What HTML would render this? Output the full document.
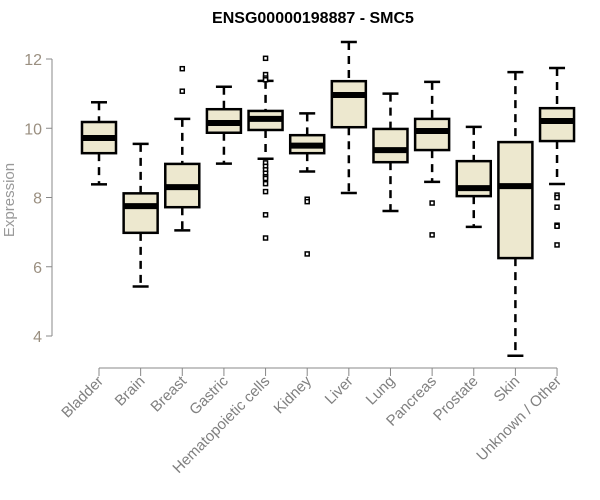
<!DOCTYPE html>
<html><head><meta charset="utf-8"><style>
body{margin:0;background:#fff}
svg{display:block;font-family:"Liberation Sans",sans-serif}
</style></head><body>
<svg id="chart" width="600" height="500" xmlns="http://www.w3.org/2000/svg">
<text x="313" y="23" text-anchor="middle" font-weight="bold" font-size="16" fill="#000">ENSG00000198887 - SMC5</text>
<text transform="translate(14,200) rotate(-90)" text-anchor="middle" font-size="15" fill="#999">Expression</text>
<g id="yaxis"></g>
<g id="xaxis"></g>
<g id="boxes"></g>
</svg>
<script>
const categories=["Bladder","Brain","Breast","Gastric","Hematopoietic cells","Kidney","Liver","Lung","Pancreas","Prostate","Skin","Unknown / Other"];
const whiskerHigh=[10.75,9.55,10.27,11.2,11.37,10.43,12.49,11.0,11.34,10.04,11.62,11.74];
const q3=[10.18,8.12,8.97,10.55,10.5,9.8,11.36,9.98,10.27,9.05,9.6,10.58];
const med=[9.72,7.75,8.3,10.15,10.27,9.5,10.96,9.37,9.92,8.27,8.33,10.21];
const q1=[9.28,6.98,7.72,9.87,9.95,9.28,10.03,9.02,9.37,8.04,6.25,9.63];
const whiskerLow=[8.38,5.43,7.05,8.98,9.12,8.75,8.13,7.61,8.45,7.15,3.43,8.39];
const outliers=[[],[],[11.72,11.07],[],[12.02,11.55,11.45,11.4,9.0,8.9,8.8,8.7,8.6,8.55,8.4,8.17,7.5,6.83],[7.95,7.88,6.37],[],[],[7.84,6.92],[],[],[8.07,8.0,7.72,7.2,7.17,6.63]];
const yTicks=[4,6,8,10,12];

const NS="http://www.w3.org/2000/svg";
function yScale(v){return 336-(v-4)*34.625;}
function xScale(i){return 99+i*41.64;}
function mk(tag,attrs,parent){const e=document.createElementNS(NS,tag);for(const k in attrs)e.setAttribute(k,attrs[k]);parent.appendChild(e);return e;}

const ya=document.getElementById('yaxis');
mk('line',{x1:52,x2:52,y1:yScale(4),y2:yScale(12),stroke:'#888','stroke-width':1},ya);
yTicks.forEach(t=>{
  const tk=mk('line',{x1:46,x2:52,y1:yScale(t),y2:yScale(t),stroke:'#888'},ya);
  
  
  const lb=mk('text',{x:42,y:yScale(t)+6,'text-anchor':'end','font-size':16,fill:'#9a8f80'},ya);
  lb.textContent=t;
  
  
});

const xa=document.getElementById('xaxis');
mk('line',{x1:xScale(0),x2:xScale(categories.length-1),y1:368,y2:368,stroke:'#888'},xa);
categories.forEach((c,i)=>{
  const x=xScale(i);
  const tk=mk('line',{x1:x,x2:x,y1:368,y2:376,stroke:'#888'},xa);
  
  
  const lb=mk('text',{transform:`translate(${x+5},${382}) rotate(-45)`,'text-anchor':'end','font-size':15,fill:'#808080'},xa);
  lb.textContent=c;
  
  
});

const bx=document.getElementById('boxes');
categories.forEach((c,i)=>{
  const x=xScale(i),w=34;
  const g=mk('g',{},bx);
  
  
  mk('line',{x1:x,x2:x,y1:yScale(whiskerHigh[i]),y2:yScale(q3[i]),stroke:'#000','stroke-width':2.5,'stroke-dasharray':'8,6'},g);
  mk('line',{x1:x,x2:x,y1:yScale(q1[i]),y2:yScale(whiskerLow[i]),stroke:'#000','stroke-width':2.5,'stroke-dasharray':'8,6'},g);
  mk('line',{x1:x-8,x2:x+8,y1:yScale(whiskerHigh[i]),y2:yScale(whiskerHigh[i]),stroke:'#000','stroke-width':2.5},g);
  mk('line',{x1:x-8,x2:x+8,y1:yScale(whiskerLow[i]),y2:yScale(whiskerLow[i]),stroke:'#000','stroke-width':2.5},g);
  mk('rect',{x:x-w/2,y:yScale(q3[i]),width:w,height:yScale(q1[i])-yScale(q3[i]),fill:'#ede8cf',stroke:'#000','stroke-width':2.5},g);
  mk('line',{x1:x-w/2,x2:x+w/2,y1:yScale(med[i]),y2:yScale(med[i]),stroke:'#000','stroke-width':6},g);
  outliers[i].forEach(v=>{
    const p=mk('rect',{x:x-2,y:yScale(v)-2,width:4,height:4,fill:'#fff',stroke:'#000','stroke-width':1.5},g);
    
    
  });
});
</script>
</body></html>
